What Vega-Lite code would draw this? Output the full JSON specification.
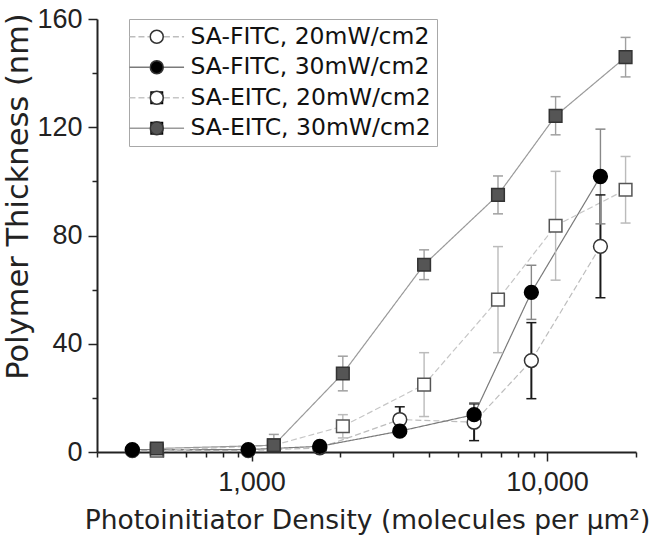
{
  "$schema": "https://vega.github.io/schema/vega-lite/v6.json",
  "width": 539,
  "height": 433,
  "autosize": {"type": "none"},
  "padding": {"left": 97, "top": 19, "right": 14, "bottom": 86},
  "background": "white",
  "config": {
    "view": {"stroke": null},
    "font": "Liberation Sans",
    "axis": {"grid": false},
    "legend": {
      "orient": "none",
      "legendX": 32,
      "legendY": 0,
      "symbolSize": 169,
      "symbolStrokeWidth": 1.5,
      "symbolOffset": 10,
      "labelOffset": 22,
      "labelFont": "DejaVu Sans",
      "labelFontSize": 23.5,
      "labelColor": "#111111",
      "labelLimit": 400,
      "rowPadding": 5.5,
      "padding": 6
    }
  },
  "data": {
    "values": [
      {"series": "SA-FITC, 20mW/cm2", "x": 395, "y": 0.5},
      {"series": "SA-FITC, 20mW/cm2", "x": 975, "y": 0.5},
      {"series": "SA-FITC, 20mW/cm2", "x": 1702, "y": 1.5},
      {"series": "SA-FITC, 20mW/cm2", "x": 3175, "y": 12.0, "lo": 7.3, "hi": 16.7},
      {"series": "SA-FITC, 20mW/cm2", "x": 5665, "y": 11.0, "lo": 4.2, "hi": 17.8},
      {"series": "SA-FITC, 20mW/cm2", "x": 8850, "y": 33.8, "lo": 19.7, "hi": 47.8},
      {"series": "SA-FITC, 20mW/cm2", "x": 15160, "y": 76.0, "lo": 57.0, "hi": 95.0},
      {"series": "SA-FITC, 30mW/cm2", "x": 395, "y": 0.9},
      {"series": "SA-FITC, 30mW/cm2", "x": 975, "y": 0.9},
      {"series": "SA-FITC, 30mW/cm2", "x": 1702, "y": 2.1},
      {"series": "SA-FITC, 30mW/cm2", "x": 3175, "y": 7.7},
      {"series": "SA-FITC, 30mW/cm2", "x": 5665, "y": 13.8, "lo": 9.4, "hi": 18.2},
      {"series": "SA-FITC, 30mW/cm2", "x": 8850, "y": 59.0, "lo": 49.0, "hi": 69.0},
      {"series": "SA-FITC, 30mW/cm2", "x": 15160, "y": 101.8, "lo": 84.3, "hi": 119.3},
      {"series": "SA-EITC, 20mW/cm2", "x": 478, "y": 0.5},
      {"series": "SA-EITC, 20mW/cm2", "x": 1190, "y": 2.5},
      {"series": "SA-EITC, 20mW/cm2", "x": 2037, "y": 9.5, "lo": 5.2, "hi": 13.8},
      {"series": "SA-EITC, 20mW/cm2", "x": 3837, "y": 24.9, "lo": 13.1, "hi": 36.7},
      {"series": "SA-EITC, 20mW/cm2", "x": 6824, "y": 56.3, "lo": 36.7, "hi": 75.9},
      {"series": "SA-EITC, 20mW/cm2", "x": 10690, "y": 83.6, "lo": 63.5, "hi": 103.7},
      {"series": "SA-EITC, 20mW/cm2", "x": 18440, "y": 96.9, "lo": 84.6, "hi": 109.2},
      {"series": "SA-EITC, 30mW/cm2", "x": 478, "y": 1.3},
      {"series": "SA-EITC, 30mW/cm2", "x": 1190, "y": 2.5, "lo": 0.5, "hi": 6.5},
      {"series": "SA-EITC, 30mW/cm2", "x": 2037, "y": 29.0, "lo": 22.6, "hi": 35.4},
      {"series": "SA-EITC, 30mW/cm2", "x": 3837, "y": 69.2, "lo": 63.7, "hi": 74.7},
      {"series": "SA-EITC, 30mW/cm2", "x": 6824, "y": 95.0, "lo": 88.0, "hi": 102.0},
      {"series": "SA-EITC, 30mW/cm2", "x": 10690, "y": 124.2, "lo": 117.2, "hi": 131.3},
      {"series": "SA-EITC, 30mW/cm2", "x": 18440, "y": 145.9, "lo": 138.6, "hi": 153.2}
    ]
  },
  "encoding": {
    "x": {
      "field": "x",
      "type": "quantitative",
      "scale": {"type": "log", "domain": [300, 20000], "nice": false},
      "axis": {
        "values": [300, 400, 500, 600, 700, 800, 900, 1000, 2000, 3000, 4000, 5000, 6000, 7000, 8000, 9000, 10000, 20000],
        "labelExpr": "datum.value == 1000 || datum.value == 10000 ? format(datum.value, ',') : ''",
        "labelOverlap": false,
        "labelFlush": false,
        "tickSize": {"condition": {"test": "datum.value == 1000 || datum.value == 10000", "value": 9}, "value": 5},
        "tickWidth": 1.5,
        "tickColor": "#222222",
        "domainColor": "#222222",
        "domainWidth": 2,
        "labelFont": "Liberation Sans",
        "labelFontSize": 27,
        "labelColor": "#222222",
        "labelPadding": 8,
        "title": "Photoinitiator Density (molecules per µm²)",
        "titleFont": "DejaVu Sans",
        "titleFontSize": 26.5,
        "titleFontWeight": "normal",
        "titleColor": "#222222",
        "titleX": 270,
        "titleY": 76,
        "titleAlign": "center",
        "titleBaseline": "alphabetic"
      }
    },
    "y": {
      "field": "y",
      "type": "quantitative",
      "scale": {"domain": [0, 160], "nice": false, "zero": false},
      "axis": {
        "values": [0, 20, 40, 60, 80, 100, 120, 140, 160],
        "labelExpr": "datum.value % 40 == 0 ? datum.label : ''",
        "tickSize": {"condition": {"test": "datum.value % 40 == 0", "value": 9}, "value": 5},
        "tickWidth": 1.5,
        "tickColor": "#222222",
        "domainColor": "#222222",
        "domainWidth": 2,
        "labelFont": "Liberation Sans",
        "labelFontSize": 27,
        "labelColor": "#222222",
        "labelPadding": 6,
        "labelFlush": false,
        "title": "Polymer Thickness (nm)",
        "titleFont": "DejaVu Sans",
        "titleFontSize": 30.5,
        "titleFontWeight": "normal",
        "titleColor": "#222222",
        "titleAngle": 270,
        "titleX": -70,
        "titleY": 177,
        "titleAlign": "center",
        "titleBaseline": "alphabetic"
      }
    }
  },
  "layer": [
    {
      "mark": {"type": "line", "strokeWidth": 1.2},
      "encoding": {
        "color": {
          "field": "series",
          "type": "nominal",
          "scale": {
            "domain": ["SA-FITC, 20mW/cm2", "SA-FITC, 30mW/cm2", "SA-EITC, 20mW/cm2", "SA-EITC, 30mW/cm2"],
            "range": ["#bdbdbd", "#7a7a7a", "#c6c6c6", "#9a9a9a"]
          },
          "legend": {
            "title": null,
            "symbolType": "M-4.2,0H-1.1M1.1,0H4.2",
            "symbolFillColor": "transparent",
            "strokeColor": "#a8a8a8"
          }
        },
        "strokeDash": {
          "field": "series",
          "type": "nominal",
          "scale": {
            "domain": ["SA-FITC, 20mW/cm2", "SA-FITC, 30mW/cm2", "SA-EITC, 20mW/cm2", "SA-EITC, 30mW/cm2"],
            "range": [[6, 3], [1, 0], [6, 3], [1, 0]]
          },
          "legend": null
        }
      }
    },
    {
      "transform": [{"filter": "isValid(datum.lo)"}],
      "mark": {"type": "rule"},
      "encoding": {
        "y": {"field": "lo", "type": "quantitative"},
        "y2": {"field": "hi"},
        "stroke": {
          "condition": [
            {"test": "datum.series == 'SA-FITC, 20mW/cm2'", "value": "#1a1a1a"},
            {"test": "datum.series == 'SA-FITC, 30mW/cm2'", "value": "#888888"},
            {"test": "datum.series == 'SA-EITC, 20mW/cm2'", "value": "#bbbbbb"}
          ],
          "value": "#a0a0a0"
        },
        "strokeWidth": {"condition": {"test": "datum.series == 'SA-FITC, 20mW/cm2'", "value": 2}, "value": 1.4}
      }
    },
    {
      "transform": [{"filter": "isValid(datum.lo)"}],
      "mark": {"type": "tick", "orient": "horizontal", "size": 10, "thickness": 1.5, "opacity": 1},
      "encoding": {
        "y": {"field": "lo", "type": "quantitative"},
        "color": {
          "condition": [
            {"test": "datum.series == 'SA-FITC, 20mW/cm2'", "value": "#1a1a1a"},
            {"test": "datum.series == 'SA-FITC, 30mW/cm2'", "value": "#888888"},
            {"test": "datum.series == 'SA-EITC, 20mW/cm2'", "value": "#bbbbbb"}
          ],
          "value": "#a0a0a0"
        }
      }
    },
    {
      "transform": [{"filter": "isValid(datum.hi)"}],
      "mark": {"type": "tick", "orient": "horizontal", "size": 10, "thickness": 1.5, "opacity": 1},
      "encoding": {
        "y": {"field": "hi", "type": "quantitative"},
        "color": {
          "condition": [
            {"test": "datum.series == 'SA-FITC, 20mW/cm2'", "value": "#1a1a1a"},
            {"test": "datum.series == 'SA-FITC, 30mW/cm2'", "value": "#888888"},
            {"test": "datum.series == 'SA-EITC, 20mW/cm2'", "value": "#bbbbbb"}
          ],
          "value": "#a0a0a0"
        }
      }
    },
    {
      "mark": {"type": "point", "strokeWidth": 1.5, "opacity": 1},
      "encoding": {
        "fill": {
          "field": "series",
          "type": "nominal",
          "sort": ["SA-FITC, 20mW/cm2", "SA-FITC, 30mW/cm2", "SA-EITC, 20mW/cm2", "SA-EITC, 30mW/cm2"],
          "scale": {"range": ["#ffffff", "#000000", "#ffffff", "#555555"]},
          "legend": {"title": null, "labelOpacity": 0, "symbolStrokeColor": "#333333"}
        },
        "shape": {
          "field": "series",
          "type": "nominal",
          "sort": ["SA-FITC, 20mW/cm2", "SA-FITC, 30mW/cm2", "SA-EITC, 20mW/cm2", "SA-EITC, 30mW/cm2"],
          "scale": {"range": ["circle", "circle", "square", "square"]},
          "legend": {"title": null, "labelOpacity": 0, "symbolStrokeColor": "#333333"}
        },
        "stroke": {
          "field": "series",
          "type": "nominal",
          "sort": ["SA-FITC, 20mW/cm2", "SA-FITC, 30mW/cm2", "SA-EITC, 20mW/cm2", "SA-EITC, 30mW/cm2"],
          "scale": {"range": ["#333333", "#000000", "#555555", "#333333"]},
          "legend": null
        },
        "size": {"condition": {"test": "indexof(datum.series, 'FITC') >= 0", "value": 190}, "value": 160}
      }
    }
  ]
}
